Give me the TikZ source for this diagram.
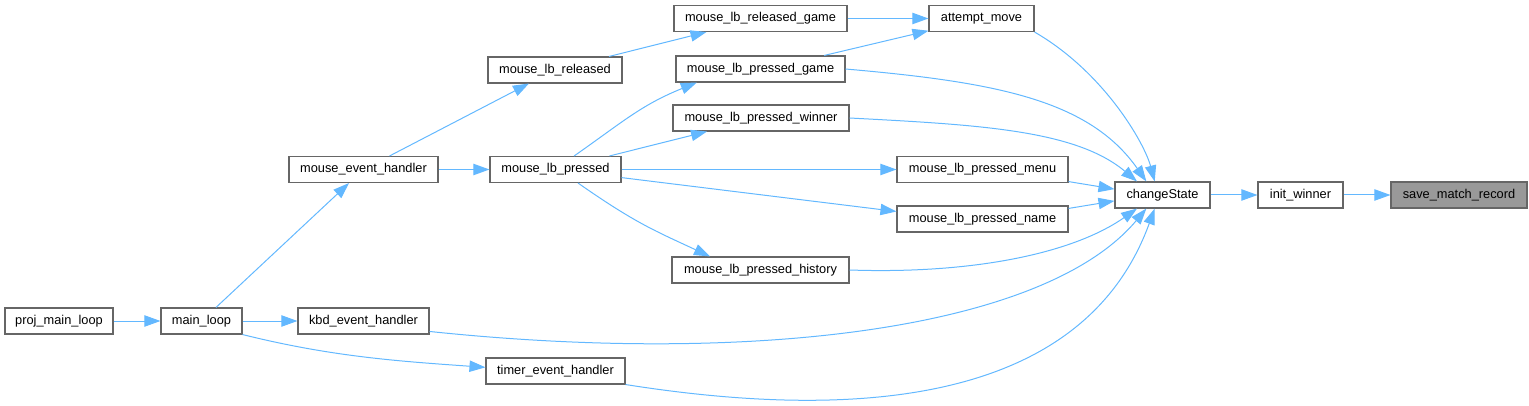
\documentclass[tikz,border=0pt]{standalone}
\usepackage{fontspec}
\setmainfont{Liberation Sans}
\usetikzlibrary{arrows.meta}
\definecolor{callblue}{HTML}{63B8FF}
\definecolor{boxgray}{HTML}{666666}
\definecolor{rootgray}{HTML}{999999}

\begin{document}
\begin{tikzpicture}[x=0.75pt, y=0.75pt,
	every node/.style={font=\fontsize{9.6}{11}\selectfont},
	fn/.style={draw=boxgray, line width=0.8pt, fill=white, inner sep=0pt, minimum height=19.5pt, minimum width=#1*0.75pt},
	call/.style={draw=callblue, line width=0.75pt, -{Triangle[length=12pt,width=8.5pt]}}]
	\useasboundingbox (0,0) rectangle (1529,-406);
	\node[fn=108] (proj) at (59,-321) {proj\_main\_loop};
	\node[fn=81] (mainloop) at (201.5,-321) {main\_loop};
	\node[fn=149] (mouseev) at (363.5,-169.5) {mouse\_event\_handler};
	\node[fn=131] (kbdev) at (363.5,-321) {kbd\_event\_handler};
	\node[fn=134] (lbrel) at (555,-70) {mouse\_lb\_released};
	\node[fn=131] (lbpr) at (555.5,-169.5) {mouse\_lb\_pressed};
	\node[fn=139] (timerev) at (555.5,-371) {timer\_event\_handler};
	\node[fn=173] (relgame) at (760.5,-18.5) {mouse\_lb\_released\_game};
	\node[fn=169] (prgame) at (760.5,-69) {mouse\_lb\_pressed\_game};
	\node[fn=176] (prwinner) at (761,-118) {mouse\_lb\_pressed\_winner};
	\node[fn=177] (prhistory) at (760.5,-270) {mouse\_lb\_pressed\_history};
	\node[fn=105] (attempt) at (981.5,-18.5) {attempt\_move};
	\node[fn=171] (prmenu) at (982.5,-169.5) {mouse\_lb\_pressed\_menu};
	\node[fn=171] (prname) at (982.5,-219) {mouse\_lb\_pressed\_name};
	\node[fn=95] (change) at (1162.5,-195) {changeState};
	\node[fn=85] (initw) at (1300.5,-195) {init\_winner};
	\node[fn=136, fill=rootgray] (save) at (1459,-195) {save\_match\_record};

	\draw[call] (proj) -- (mainloop);
	\draw[call] (mainloop) -- (mouseev);
	\draw[call] (mainloop) -- (kbdev);
	\draw[call] (mainloop.south east) .. controls +(-14:90) and +(176:90) .. (timerev.177);
	\draw[call] (mouseev) -- (lbrel);
	\draw[call] (mouseev) -- (lbpr);
	\draw[call] (lbrel) -- (relgame);
	\draw[call] (lbpr.36) .. controls +(35:60) and +(202:60) .. (prgame.192);
	\draw[call] (lbpr) -- (prwinner);
	\draw[call] (lbpr) -- (prmenu);
	\draw[call] (lbpr.-7) -- (prname.175);
	\draw[call] (lbpr.-31) .. controls +(-35:70) and +(155:60) .. (prhistory.165);
	\draw[call] (relgame) -- (attempt);
	\draw[call] (prgame.12) -- (attempt.193);
	\draw[call] (prgame.east) .. controls +(-5:150) and +(125:100) .. (change.140);
	\draw[call] (prwinner.east) .. controls +(-3:130) and +(140:80) .. (change.152);
	\draw[call] (attempt.south east) .. controls +(-30:80) and +(105:40) .. (change.120);
	\draw[call] (prmenu.-8) -- (change.173);
	\draw[call] (prname.7) -- (change.187);
	\draw[call] (prhistory.east) .. controls +(-2:120) and +(215:80) .. (change.208);
	\draw[call] (kbdev.-9) .. controls +(-6:320) and +(230:160) .. (change.220);
	\draw[call] (timerev.south east) .. controls +(-9:230) and +(250:210) .. (change.240);
	\draw[call] (change) -- (initw);
	\draw[call] (initw) -- (save);
\end{tikzpicture}
\end{document}
